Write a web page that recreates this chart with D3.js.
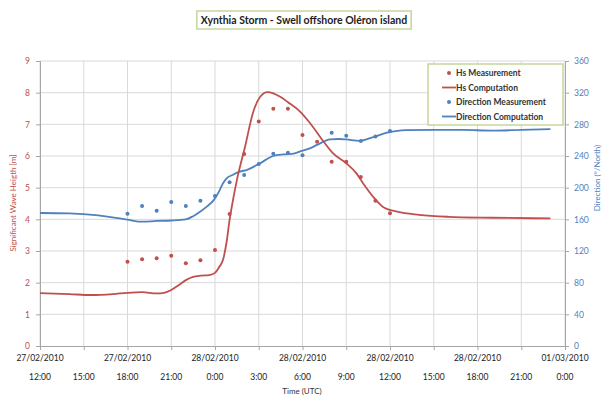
<!DOCTYPE html>
<html>
<head>
<meta charset="utf-8">
<script src="https://cdn.jsdelivr.net/npm/d3@7"></script>
<style>
  body { margin: 0; background: #fff; }
  text { font-family: Lato, "Open Sans", sans-serif; }
</style>
</head>
<body>
<svg id="chart" width="603" height="396"></svg>
<script>
// hours counted from 27/02/2010 12:00 UTC
const start = Date.UTC(2010, 1, 27, 12)
const hour = 3600 * 1000

// measurements, hourly from 27/02 18:00 to 28/02 12:00
const measHours = d3.range(6, 25)
const hsMeas = [2.66, 2.74, 2.77, 2.85, 2.61, 2.71, 3.03, 4.17, 6.06, 7.09, 7.49, 7.49, 6.66, 6.45, 5.82, 5.82, 5.34, 4.59, 4.19]
const dirMeas = [167, 177, 171, 182, 177, 183.5, 189.5, 207, 216, 230, 243, 244, 241, null, 269.5, 265.5, 259, 264.5, 271.5]

// model output
const hsCompHours = [0, 2, 3.5, 5, 6, 7, 8, 8.5, 9, 9.5, 10, 10.5, 11, 11.6, 12, 12.3, 12.55, 12.8, 13, 13.25, 13.5, 14.06, 14.6, 15.1, 15.6, 16, 16.5, 17, 17.8, 18.5, 19.2, 20.1, 21, 21.7, 22.15, 22.85, 23.5, 24.5, 26, 28, 31, 35]
const hsComp = [1.67, 1.64, 1.61, 1.64, 1.68, 1.70, 1.66, 1.68, 1.77, 1.92, 2.08, 2.18, 2.22, 2.24, 2.31, 2.5, 2.72, 3.3, 3.98, 4.65, 5.24, 6.29, 7.36, 7.87, 8.02, 7.98, 7.86, 7.70, 7.42, 7.05, 6.61, 6.08, 5.77, 5.45, 5.14, 4.71, 4.40, 4.24, 4.14, 4.08, 4.05, 4.03]
const dirCompHours = [0, 2, 4, 6, 7, 8, 9, 10, 10.5, 11, 11.5, 11.9, 12.3, 12.55, 12.8, 13.2, 13.7, 14.2, 15.1, 16, 16.7, 17.4, 17.8, 18.5, 19, 19.9, 20.5, 21, 21.9, 22.8, 23.8, 25.1, 27, 29, 31, 33, 35]
const dirComp = [168, 167.5, 165, 159.5, 157, 158, 158.5, 160, 164, 170, 177, 184, 196, 205.5, 211.8, 216, 220.2, 222.5, 231, 240, 242, 243, 245.4, 249.7, 254, 261, 261.5, 261, 259.2, 263.6, 269.4, 272.8, 273, 273, 272, 273, 274]

const hsTicks = d3.range(0, 10)
const dirTicks = d3.range(0, 361, 40)

const red = '#c0504d', blue = '#4f81bd', grid = '#d9d9d9'

const svg = d3.select('#chart')
const toDate = h => new Date(start + h * hour)

const x = d3.scaleUtc().domain([toDate(0), toDate(36)]).range([40, 565])
const yL = d3.scaleLinear().domain([0, 9]).range([346, 61])
const yR = d3.scaleLinear().domain([0, 360]).range([346, 61])
const timeTicks = d3.range(0, 37, 3).map(toDate)
const dateTicks = d3.range(0, 37, 6).map(toDate)

// grid
svg.append('g').selectAll('line')
    .data(hsTicks.slice(1))
    .join('line')
    .attr('x1', 40).attr('x2', 565)
    .attr('y1', d => yL(d)).attr('y2', d => yL(d))
    .attr('stroke', grid)
svg.append('g').selectAll('line')
    .data(timeTicks)
    .join('line')
    .attr('x1', d => x(d)).attr('x2', d => x(d))
    .attr('y1', 61).attr('y2', 346)
    .attr('stroke', grid)

// axes
const styleAxis = (g, color) => {
    g.select('.domain').attr('stroke', '#a6a6a6')
    g.selectAll('.tick line').attr('stroke', '#a6a6a6')
    g.selectAll('.tick text').attr('fill', color).attr('font-size', 8.5)
        .style('font-family', 'Lato, sans-serif')
}
svg.append('g')
    .attr('transform', 'translate(40,0)')
    .call(d3.axisLeft(yL).tickValues(hsTicks).tickSize(4).tickPadding(6))
    .call(g => styleAxis(g, red))
svg.append('g')
    .attr('transform', 'translate(565,0)')
    .call(d3.axisRight(yR).tickValues(dirTicks).tickSize(4).tickPadding(5))
    .call(g => styleAxis(g, blue))
svg.append('g')
    .attr('transform', 'translate(0,346)')
    .call(d3.axisBottom(x).tickValues(timeTicks).tickSize(4).tickFormat(''))
    .call(g => styleAxis(g, '#333'))

svg.append('g').selectAll('text')
    .data(dateTicks)
    .join('text')
    .attr('x', d => x(d)).attr('y', 361)
    .attr('text-anchor', 'middle')
    .attr('font-size', 8.5)
    .attr('fill', '#222')
    .text(d3.utcFormat('%d/%m/%Y'))
svg.append('g').selectAll('text')
    .data(timeTicks)
    .join('text')
    .attr('x', d => x(d)).attr('y', 380)
    .attr('text-anchor', 'middle')
    .attr('font-size', 8.5)
    .attr('fill', '#222')
    .text(d3.utcFormat('%-H:%M'))

// axis titles
svg.append('text')
    .attr('x', 302).attr('y', 394)
    .attr('text-anchor', 'middle')
    .attr('font-size', 8).attr('fill', '#333')
    .text('Time (UTC)')
svg.append('text')
    .attr('transform', 'translate(16,203)rotate(-90)')
    .attr('text-anchor', 'middle')
    .attr('font-size', 8).attr('fill', red)
    .text('Significant Wave Heigth [m]')
svg.append('text')
    .attr('transform', 'translate(600,178)rotate(-90)')
    .attr('text-anchor', 'middle')
    .attr('font-size', 8).attr('fill', blue)
    .text('Direction (°/North)')

// series
const hsLine = d3.line()
    .x((d, i) => x(toDate(hsCompHours[i])))
    .y(d => yL(d))
    .curve(d3.curveMonotoneX)
const dirLine = d3.line()
    .x((d, i) => x(toDate(dirCompHours[i])))
    .y(d => yR(d))
    .curve(d3.curveMonotoneX)

svg.append('path')
    .datum(dirComp)
    .attr('d', dirLine)
    .attr('fill', 'none').attr('stroke', blue).attr('stroke-width', 1.8)
svg.append('path')
    .datum(hsComp)
    .attr('d', hsLine)
    .attr('fill', 'none').attr('stroke', red).attr('stroke-width', 1.8)

svg.append('g').selectAll('circle')
    .data(hsMeas)
    .join('circle')
    .attr('cx', (d, i) => x(toDate(measHours[i])))
    .attr('cy', d => yL(d))
    .attr('r', 2)
    .attr('fill', red)
svg.append('g').selectAll('circle')
    .data(dirMeas.map((d, i) => [measHours[i], d]).filter(d => d[1] != null))
    .join('circle')
    .attr('cx', d => x(toDate(d[0])))
    .attr('cy', d => yR(d[1]))
    .attr('r', 2)
    .attr('fill', blue)

// legend
const legend = svg.append('g').attr('transform', 'translate(428,64)')
legend.append('rect')
    .attr('width', 135).attr('height', 61)
    .attr('fill', '#fff').attr('stroke', '#c3d69b').attr('stroke-width', 1.5)
const items = [
    {name: 'Hs Measurement', color: red, type: 'dot'},
    {name: 'Hs Computation', color: red, type: 'line'},
    {name: 'Direction Measurement', color: blue, type: 'dot'},
    {name: 'Direction Computation', color: blue, type: 'line'}
]
items.forEach((d, i) => {
    let g = legend.append('g').attr('transform', `translate(0,${9 + i * 14.5})`)
    if (d.type === 'dot') {
        g.append('circle').attr('cx', 21).attr('cy', 0).attr('r', 2).attr('fill', d.color)
    } else {
        g.append('line').attr('x1', 14).attr('x2', 28).attr('stroke', d.color).attr('stroke-width', 1.8)
    }
    g.append('text')
        .attr('x', 28).attr('y', 3)
        .attr('font-size', 8.5).attr('font-weight', 'bold').attr('fill', '#333')
        .text(d.name)
})

// title
const title = svg.append('g')
const tt = title.append('text')
    .attr('x', 304).attr('y', 24)
    .attr('text-anchor', 'middle')
    .attr('font-size', 10.5).attr('font-weight', 'bold').attr('fill', '#222')
    .text('Xynthia Storm - Swell offshore Oléron island')
const bb = tt.node().getBBox()
title.insert('rect', 'text')
    .attr('x', bb.x - 4).attr('y', 11)
    .attr('width', bb.width + 8).attr('height', 18)
    .attr('fill', '#fff').attr('stroke', '#c3d69b').attr('stroke-width', 1.5)
</script>
</body>
</html>
